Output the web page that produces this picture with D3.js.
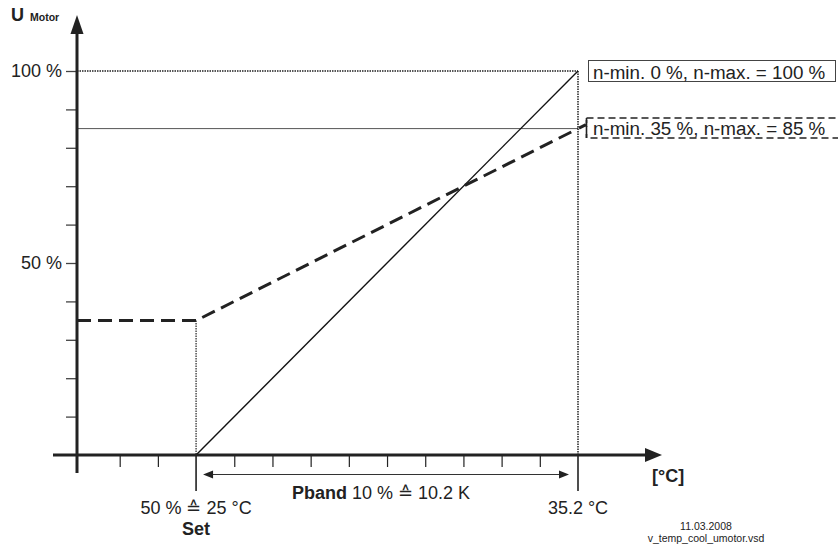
<!DOCTYPE html>
<html><head><meta charset="utf-8">
<script src="https://cdn.jsdelivr.net/npm/d3@7"></script>
<style>body{margin:0;background:#fff}svg{display:block}text{font-family:"Liberation Sans",Arial,sans-serif;fill:#222}</style>
</head><body>
<script>
// ---- data ----
const setTemp = 25;          // °C, set point (50 %)
const endTemp = 35.2;        // °C, end of P-band
const originTemp = 21.82;    // °C at the U axis
const stepK = 1.02;          // tick step (1 % of Pband)
const yTickValues = [10,20,30,40,50,60,70,80,90,100];
const yTickLabels = {50:"50 %",100:"100 %"};
const xTickOffsets = [-2,-1,1,2,3,4,5,6,7,8,9];
const curveFull = [{t:25,u:0},{t:35.2,u:100}];            // n-min 0 %, n-max 100 %
const curveLimited = [{t:21.82,u:35},{t:25,u:35},{t:35.2,u:85}]; // n-min 35 %, n-max 85 %
const labelFull = "n-min. 0 %, n-max. = 100 %";
const labelLimited = "n-min. 35 %, n-max. = 85 %";

const W=838,H=547;
const svg=d3.select("body").append("svg").attr("width",W).attr("height",H);
const x=d3.scaleLinear().domain([originTemp,endTemp]).range([77,578]);
const y=d3.scaleLinear().domain([0,100]).range([455,71]);

// reference lines
svg.append("line").attr("x1",x(originTemp)).attr("x2",x(endTemp)).attr("y1",y(100)).attr("y2",y(100))
  .attr("stroke","#222").attr("stroke-width",1.5).attr("stroke-dasharray","1.5,1");
svg.append("line").attr("x1",x(originTemp)).attr("x2",x(endTemp)).attr("y1",y(85)).attr("y2",y(85))
  .attr("stroke","#555").attr("stroke-width",1);
svg.append("line").attr("x1",x(endTemp)).attr("x2",x(endTemp)).attr("y1",y(100)).attr("y2",y(0))
  .attr("stroke","#222").attr("stroke-width",1.5).attr("stroke-dasharray","1.5,1");
svg.append("line").attr("x1",x(setTemp)).attr("x2",x(setTemp)).attr("y1",y(35)).attr("y2",y(0))
  .attr("stroke","#222").attr("stroke-width",1.2).attr("stroke-dasharray","1.5,1");

// y ticks
const yAx=svg.append("g").attr("transform",`translate(${x(originTemp)},0)`)
  .call(d3.axisLeft(y).tickValues(yTickValues).tickSize(11).tickPadding(4).tickFormat(d=>yTickLabels[d]||""));
yAx.select(".domain").remove();
yAx.selectAll("line").attr("stroke","#444").attr("stroke-width",1.3);
yAx.selectAll("text").attr("font-size",18).attr("font-family","Liberation Sans, Arial").attr("fill","#222");

// x ticks
const xAx=svg.append("g").attr("transform",`translate(0,${y(0)})`)
  .call(d3.axisBottom(x).tickValues(xTickOffsets.map(k=>setTemp+k*stepK)).tickSize(12).tickFormat(""));
xAx.select(".domain").remove();
xAx.selectAll("line").attr("stroke","#222").attr("stroke-width",1.2);
// long ticks
[setTemp,endTemp].forEach(t=>svg.append("line").attr("x1",x(t)).attr("x2",x(t)).attr("y1",y(0)).attr("y2",y(0)+36)
  .attr("stroke","#222").attr("stroke-width",1.6));

// curves
const line=d3.line().x(d=>x(d.t)).y(d=>y(d.u));
svg.append("path").datum(curveFull).attr("d",line).attr("fill","none").attr("stroke","#111").attr("stroke-width",1.4);
svg.append("path").datum(curveLimited).attr("d",line).attr("fill","none").attr("stroke","#222")
  .attr("stroke-width",3).attr("stroke-dasharray","14,7");
// connector from end of limited curve to label box
const lp=curveLimited[curveLimited.length-1], lp2=curveLimited[curveLimited.length-2];
const slope=(lp.u-lp2.u)/(lp.t-lp2.t);
const tC=x.invert(586), tS=x.invert(x(lp.t)+1);
svg.append("line").attr("x1",x(tS)).attr("y1",y(lp.u+slope*(tS-lp.t)))
  .attr("x2",586).attr("y2",y(lp.u+slope*(tC-lp.t))).attr("stroke","#222").attr("stroke-width",3);

// axes
svg.append("line").attr("x1",53).attr("x2",646).attr("y1",y(0)).attr("y2",y(0)).attr("stroke","#222").attr("stroke-width",3);
svg.append("path").attr("d",`M645,${y(0)-7}L662,${y(0)}L645,${y(0)+7}Z`).attr("fill","#222");
svg.append("line").attr("x1",x(originTemp)).attr("x2",x(originTemp)).attr("y1",32).attr("y2",473).attr("stroke","#222").attr("stroke-width",3);
svg.append("path").attr("d",`M${x(originTemp)-6.5},34L${x(originTemp)},15L${x(originTemp)+6.5},34Z`).attr("fill","#222");

// label boxes
svg.append("rect").attr("x",588.5).attr("y",60.5).attr("width",247).attr("height",21).attr("fill","#fff").attr("stroke","#444").attr("stroke-width",1);
svg.append("text").attr("x",593).attr("y",78.5).attr("font-size",18.8).text(labelFull);
svg.append("rect").attr("x",586.5).attr("y",118).attr("width",254).attr("height",20).attr("fill","#fff").attr("stroke","#222").attr("stroke-width",1.6).attr("stroke-dasharray","7,4");
svg.append("line").attr("x1",586.5).attr("x2",586.5).attr("y1",118).attr("y2",138).attr("stroke","#222").attr("stroke-width",1.6).attr("stroke-dasharray","5,3");
svg.append("text").attr("x",593).attr("y",135).attr("font-size",18.8).text(labelLimited);

// axis labels
const ul=svg.append("text").attr("x",11).attr("y",21).attr("font-weight","bold");
ul.append("tspan").attr("font-size",18).text("U");
ul.append("tspan").attr("font-size",10.5).attr("dx",6).text("Motor");
svg.append("text").attr("x",652).attr("y",482).attr("font-size",18).attr("font-weight","bold").text("[°C]");

// P-band arrow
const ay=474.5;
svg.append("line").attr("x1",x(setTemp)+14).attr("x2",x(endTemp)-16).attr("y1",ay).attr("y2",ay).attr("stroke","#333").attr("stroke-width",1);
svg.append("path").attr("d",`M${x(setTemp)+7},${ay}L${x(setTemp)+17},${ay-4}L${x(setTemp)+17},${ay+4}Z`).attr("fill","#222");
svg.append("path").attr("d",`M${x(endTemp)-9},${ay}L${x(endTemp)-19},${ay-4}L${x(endTemp)-19},${ay+4}Z`).attr("fill","#222");
const pb=svg.append("text").attr("x",292).attr("y",499).attr("font-size",18);
pb.append("tspan").attr("font-weight","bold").text("Pband");
pb.append("tspan").text(" 10 % ≙ 10.2 K");

// bottom labels
svg.append("text").attr("x",x(setTemp)).attr("y",513.5).attr("text-anchor","middle").attr("font-size",18).text("50 % ≙ 25 °C");
svg.append("text").attr("x",x(setTemp)).attr("y",535).attr("text-anchor","middle").attr("font-size",18).attr("font-weight","bold").text("Set");
svg.append("text").attr("x",x(endTemp)).attr("y",513.5).attr("text-anchor","middle").attr("font-size",18).text("35.2 °C");
svg.append("text").attr("x",706).attr("y",530).attr("text-anchor","middle").attr("font-size",10.5).attr("fill","#333").text("11.03.2008");
svg.append("text").attr("x",706).attr("y",542).attr("text-anchor","middle").attr("font-size",10.5).attr("fill","#333").text("v_temp_cool_umotor.vsd");
</script>
</body></html>
